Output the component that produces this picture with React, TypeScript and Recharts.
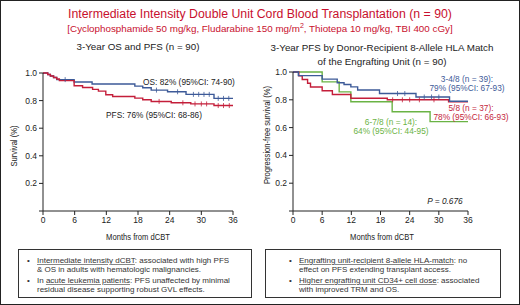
import React from "react";
import {
  ComposedChart,
  Line,
  Scatter,
  XAxis,
  YAxis,
} from "recharts";

// Kaplan-Meier step data (months, survival probability)
const months = [0, 6, 12, 18, 24, 30, 36];
const survivalTicks = [0, 0.2, 0.4, 0.6, 0.8, 1.0];

const osTimes = [0, 0.9, 1.4, 2.0, 2.6, 5.9, 9.3, 17.4, 18.9, 20.5, 23.6, 27.1, 32.4, 36];
const osValues = [1, 0.989, 0.978, 0.967, 0.952, 0.935, 0.92, 0.905, 0.893, 0.876, 0.864, 0.845, 0.816, 0.816];
const osCensored = [4.2, 21.5, 25.5, 28.5, 29.5, 30.5, 31.5, 33.2, 34.2, 35.2];

const pfsTimes = [0, 0.9, 1.4, 2.0, 2.6, 3.1, 5.9, 7.5, 9.4, 10.5, 11.9, 13.2, 17.4, 18.9, 20.5, 24.3, 28.0, 32.4, 36];
const pfsValues = [1, 0.989, 0.978, 0.967, 0.956, 0.945, 0.908, 0.895, 0.881, 0.869, 0.842, 0.83, 0.818, 0.806, 0.794, 0.784, 0.776, 0.764, 0.764];
const pfsCensored = [22, 26.5, 28.8, 30, 31, 33.2, 34.2, 35.3];

const hla34Times = [0, 1.1, 6.0, 9.1, 10.5, 11.9, 13.3, 17.8, 25.3, 32.2, 36];
const hla34Values = [1, 0.974, 0.949, 0.923, 0.91, 0.893, 0.87, 0.845, 0.82, 0.79, 0.79];
const hla34Censored = [21.5, 23, 27, 28.5, 30];

const hla5Times = [0, 1.2, 1.9, 3.0, 3.6, 6.0, 8.1, 11.9, 19.4, 32.0, 36];
const hla5Values = [1, 0.973, 0.946, 0.919, 0.892, 0.865, 0.838, 0.811, 0.8, 0.785, 0.785];
const hla5Censored = [20.5, 22.5, 24, 26, 29];

const hla67Times = [0, 6.0, 9.5, 11.9, 20.4, 28.2, 36];
const hla67Values = [1, 0.929, 0.857, 0.786, 0.714, 0.643, 0.643];

const BLUE = "#3d5a98";
const RED = "#c41e3a";
const GREEN = "#6ab344";
const TITLE_RED = "#c8102e";
const INK = "#222";
const SANS = "'Liberation Sans', Arial, sans-serif";

const steps = (times: number[], values: number[]) =>
  times.map((t, i) => ({ t, v: values[i] }));

const valueAt = (times: number[], values: number[], t: number) => {
  let v = values[0];
  times.forEach((tt, i) => {
    if (tt <= t) v = values[i];
  });
  return v;
};

const censorPoints = (times: number[], values: number[], marks: number[]) =>
  marks.map((t) => ({ t, v: valueAt(times, values, t) }));

const censorShape = (color: string) => (props: any) => (
  <line
    x1={props.cx}
    x2={props.cx}
    y1={props.cy - 2.5}
    y2={props.cy + 2.5}
    stroke={color}
    strokeWidth={0.8}
  />
);

const tickStyle = { fontSize: 8.5, fill: INK, fontFamily: SANS };

function axes(yWidth: number) {
  return [
    <XAxis
      key="x"
      type="number"
      dataKey="t"
      domain={[0, 36]}
      ticks={months}
      allowDataOverflow
      tick={tickStyle}
      tickSize={4}
      tickMargin={2}
      height={30}
      stroke={INK}
    />,
    <YAxis
      key="y"
      type="number"
      dataKey="v"
      domain={[0, 1]}
      ticks={survivalTicks}
      tickFormatter={(v: number) => (v === 0 ? "" : v.toFixed(1))}
      tick={tickStyle}
      tickSize={4}
      tickMargin={2}
      width={yWidth}
      stroke={INK}
    />,
  ];
}

// condensed axis titles (no narrow font installed, so squeeze horizontally)
function AxisTitle({ x, y, rotate, children }: any) {
  return (
    <div
      style={{
        position: "absolute",
        left: x,
        top: y,
        transform: `translate(-50%, -50%) ${rotate ? "rotate(-90deg)" : ""} scaleX(0.8)`,
        whiteSpace: "nowrap",
        fontSize: 9.5,
        lineHeight: "10px",
        color: INK,
      }}
    >
      {children}
    </div>
  );
}

function Note({ x, y, color, children, italic }: any) {
  return (
    <div
      style={{
        position: "absolute",
        left: x,
        top: y,
        transform: "translate(-50%, -50%)",
        whiteSpace: "nowrap",
        fontSize: 8.3,
        color,
        fontStyle: italic ? "italic" : "normal",
        lineHeight: "9px",
        textAlign: "center",
      }}
    >
      {children}
    </div>
  );
}

const u = { textDecoration: "underline", textDecorationColor: "#888" };

function Bullet({ children }: any) {
  return (
    <div style={{ position: "relative", paddingLeft: 15, marginBottom: 2, whiteSpace: "nowrap" }}>
      <span style={{ position: "absolute", left: 5, top: 0 }}>•</span>
      {children}
    </div>
  );
}

const boxStyle = {
  position: "absolute" as const,
  top: 248,
  height: 49,
  boxSizing: "border-box" as const,
  border: "1.3px solid #333",
  paddingTop: 6,
  fontSize: 8,
  lineHeight: "9px",
  color: "#333",
};

export default function App() {
  return (
    <div
      style={{
        position: "absolute",
        left: 0,
        top: 0,
        width: 520,
        height: 305,
        boxSizing: "border-box",
        border: "1.5px solid #222",
        background: "#fff",
        fontFamily: SANS,
        color: INK,
        overflow: "hidden",
      }}
    >
      <div style={{ position: "absolute", top: 6, width: "100%", textAlign: "center", fontSize: 12.3, color: TITLE_RED }}>
        Intermediate Intensity Double Unit Cord Blood Transplantation (n = 90)
      </div>
      <div style={{ position: "absolute", top: 21, width: "100%", textAlign: "center", fontSize: 9.8, color: TITLE_RED }}>
        [Cyclophosphamide 50 mg/kg, Fludarabine 150 mg/m<sup style={{ fontSize: 7 }}>2</sup>, Thiotepa 10 mg/kg, TBI 400 cGy]
      </div>
      <div style={{ position: "absolute", top: 40, left: 37, width: 200, textAlign: "center", fontSize: 9.8 }}>
        3-Year OS and PFS (n = 90)
      </div>
      <div style={{ position: "absolute", top: 40, left: 261, width: 240, textAlign: "center", fontSize: 9.8, lineHeight: "14px" }}>
        3-Year PFS by Donor-Recipient 8-Allele HLA Match
        <br />
        of the Engrafting Unit (n = 90)
      </div>

      <div style={{ position: "absolute", left: 0, top: 0 }}>
        <ComposedChart width={250} height={240} margin={{ top: 72, right: 18, left: 0, bottom: 0 }}>
          {axes(42)}
          <Line data={steps(osTimes, osValues)} dataKey="v" type="stepAfter" stroke={BLUE} strokeWidth={1.4} dot={false} isAnimationActive={false} />
          <Line data={steps(pfsTimes, pfsValues)} dataKey="v" type="stepAfter" stroke={RED} strokeWidth={1.4} dot={false} isAnimationActive={false} />
          <Scatter data={censorPoints(osTimes, osValues, osCensored)} dataKey="v" shape={censorShape(BLUE)} isAnimationActive={false} />
          <Scatter data={censorPoints(pfsTimes, pfsValues, pfsCensored)} dataKey="v" shape={censorShape(RED)} isAnimationActive={false} />
        </ComposedChart>
      </div>
      <AxisTitle x={137} y={236}>Months from dCBT</AxisTitle>
      <AxisTitle x={13} y={145} rotate>Survival (%)</AxisTitle>
      <Note x={188} y={81} color={INK}>OS: 82% (95%CI: 74-90)</Note>
      <Note x={153} y={114} color={INK}>PFS: 76% (95%CI: 68-86)</Note>

      <div style={{ position: "absolute", left: 260, top: 0 }}>
        <ComposedChart width={260} height={240} margin={{ top: 71, right: 53, left: 0, bottom: 0 }}>
          {axes(32)}
          <Line data={steps(hla67Times, hla67Values)} dataKey="v" type="stepAfter" stroke={GREEN} strokeWidth={1.4} dot={false} isAnimationActive={false} />
          <Line data={steps(hla5Times, hla5Values)} dataKey="v" type="stepAfter" stroke={RED} strokeWidth={1.4} dot={false} isAnimationActive={false} />
          <Line data={steps(hla34Times, hla34Values)} dataKey="v" type="stepAfter" stroke={BLUE} strokeWidth={1.4} dot={false} isAnimationActive={false} />
          <Scatter data={censorPoints(hla34Times, hla34Values, hla34Censored)} dataKey="v" shape={censorShape(BLUE)} isAnimationActive={false} />
          <Scatter data={censorPoints(hla5Times, hla5Values, hla5Censored)} dataKey="v" shape={censorShape(RED)} isAnimationActive={false} />
        </ComposedChart>
      </div>
      <AxisTitle x={381} y={236}>Months from dCBT</AxisTitle>
      <AxisTitle x={266} y={134} rotate>Progression-free survival (%)</AxisTitle>
      <Note x={466} y={83} color={BLUE}>
        3-4/8 (n = 39):
        <br />
        79% (95%CI: 67-93)
      </Note>
      <Note x={470} y={112} color={RED}>
        5/8 (n = 37):
        <br />
        78% (95%CI: 66-93)
      </Note>
      <Note x={390} y={126} color={GREEN}>
        6-7/8 (n = 14):
        <br />
        64% (95%CI: 44-95)
      </Note>
      <Note x={444} y={200} color={INK} italic>
        P = 0.676
      </Note>

      <div style={{ ...boxStyle, left: 17, width: 234, paddingLeft: 3 }}>
        <Bullet>
          <span style={u}>Intermediate intensity dCBT</span>: associated with high PFS
          <br />
          &amp; OS in adults with hematologic malignancies.
        </Bullet>
        <Bullet>
          In <span style={u}>acute leukemia patients</span>: PFS unaffected by minimal
          <br />
          residual disease supporting robust GVL effects.
        </Bullet>
      </div>
      <div style={{ ...boxStyle, left: 264, width: 236, paddingLeft: 18 }}>
        <Bullet>
          <span style={u}>Engrafting unit-recipient 8-allele HLA-match</span>: no
          <br />
          effect on PFS extending transplant access.
        </Bullet>
        <Bullet>
          <span style={u}>Higher engrafting unit CD34+ cell dose</span>: associated
          <br />
          with improved TRM and OS.
        </Bullet>
      </div>
    </div>
  );
}
